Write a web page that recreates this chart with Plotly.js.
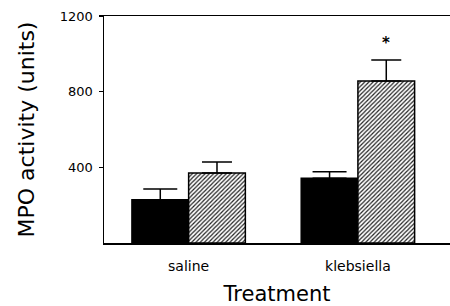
<!DOCTYPE html>
<html><head><meta charset="utf-8">
<script src="https://cdn.plot.ly/plotly-3.0.1.min.js"></script>
<style>body{margin:0;padding:0;background:#fff}#chart{width:450px;height:306px}</style>
</head><body><div id="chart"></div>
<script>
const categories = ['saline', 'klebsiella'];
const controlValues = [229, 342];
const controlErrors = [57, 35];
const treatedValues = [370, 857];
const treatedErrors = [58, 111];
const yTicks = [400, 800, 1200];
const significance = ['', '*'];

const traceA = {
  type: 'bar', x: categories, y: controlValues,
  marker: {color: '#000', line: {color: '#000', width: 1.5}},
  error_y: {type: 'data', array: controlErrors, arrayminus: [0, 0], symmetric: false, color: '#000', thickness: 1.5, width: 17},
  showlegend: false
};
const traceB = {
  type: 'bar', x: categories, y: treatedValues,
  marker: {color: '#fff', line: {color: '#000', width: 1.5},
    pattern: {shape: '/', size: 3, solidity: 0.4, fgcolor: '#222', bgcolor: '#fff'}},
  error_y: {type: 'data', array: treatedErrors, arrayminus: [0, 0], symmetric: false, color: '#000', thickness: 1.5, width: 15},
  showlegend: false
};

const annotations = [];
categories.forEach((c, i) => {
  if (significance[i]) {
    annotations.push({x: c, y: treatedValues[i] + treatedErrors[i], xshift: 28, yshift: 17, text: significance[i], showarrow: false,
      font: {family: 'DejaVu Sans', size: 15, color: '#000', weight: 'bold'}});
  }
});

const layout = {
  width: 450, height: 306,
  margin: {l: 104, r: 0, t: 16, b: 63},
  paper_bgcolor: '#fff', plot_bgcolor: '#fff',
  barmode: 'group', bargap: 0.33, bargroupgap: 0,
  font: {family: 'DejaVu Sans', color: '#000'},
  xaxis: {
    range: [-0.5, 1.544], showline: true, mirror: true, linecolor: '#000', linewidth: 1.5,
    ticks: '', showgrid: false, zeroline: false,
    tickfont: {size: 14, family: 'DejaVu Sans'}, ticklabelstandoff: 10,
    title: {text: 'Treatment', font: {size: 21, family: 'DejaVu Sans'}, standoff: 13}
  },
  yaxis: {
    range: [0, 1200], showline: true, linecolor: '#000', linewidth: 1.5,
    tickvals: yTicks, ticktext: yTicks.map(String), ticks: 'outside', ticklen: 4, tickwidth: 1.5, tickcolor: '#000',
    showgrid: false, zeroline: false, ticklabelstandoff: 3,
    tickfont: {size: 13, family: 'DejaVu Sans'},
    title: {text: 'MPO activity (units)', font: {size: 22, family: 'DejaVu Sans'}, standoff: 19}
  },
  annotations: annotations
};
Plotly.newPlot('chart', [traceA, traceB], layout, {staticPlot: true, displayModeBar: false});
</script></body></html>
